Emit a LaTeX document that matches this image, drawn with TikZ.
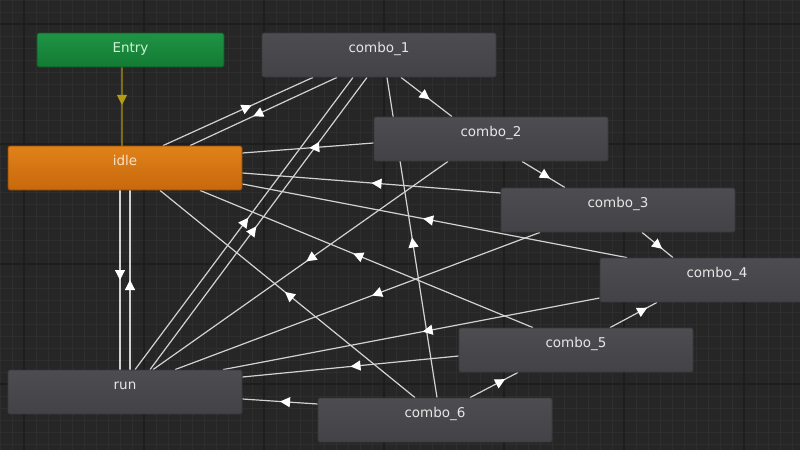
\documentclass[tikz,border=0pt]{standalone}
\usepackage{fontspec}
\setmainfont{DejaVu Sans}
\usetikzlibrary{arrows.meta}
\usetikzlibrary{decorations.markings}

\definecolor{gridbg}{HTML}{262626}
\definecolor{gridminor}{HTML}{2E2E2E}
\definecolor{gridmajor}{HTML}{1D1D1D}
\definecolor{stateborder}{HTML}{38383B}
\definecolor{statetop}{HTML}{4D4D51}
\definecolor{statebot}{HTML}{434347}
\definecolor{statetext}{HTML}{E6E6E6}
\definecolor{idletop}{HTML}{E0821A}
\definecolor{idlebot}{HTML}{C8680C}
\definecolor{idletext}{HTML}{F6E2CC}
\definecolor{entrytop}{HTML}{1F9444}
\definecolor{entrybot}{HTML}{137A33}
\definecolor{entrytext}{HTML}{CFF2D4}
\definecolor{transline}{HTML}{D2D2D2}
\definecolor{entryline}{HTML}{7D6C12}
\definecolor{entryarrow}{HTML}{B39C12}

\pgfdeclarelayer{back}
\pgfsetlayers{back,main}

\tikzset{
state/.style={rectangle, rounded corners=2pt, draw=stateborder, line width=0.8pt,
  top color=statetop, bottom color=statebot, minimum width=234pt, minimum height=44pt,
  inner sep=0pt, text=statetext, text height=9pt, text depth=14pt,
  font=\fontsize{13.5}{16}\selectfont},
idlestate/.style={state, draw=idlebot!70!black, top color=idletop, bottom color=idlebot, text=idletext},
entrystate/.style={state, draw=entrybot!70!black, top color=entrytop, bottom color=entrybot,
  text=entrytext, minimum width=187pt, minimum height=34pt, text depth=5pt},
trans/.style={draw=transline, line width=1.2pt, postaction={decorate},
  decoration={markings, mark=at position #1 with {\arrow[white]{Triangle[length=10pt,width=10pt]}}}},
trans/.default=0.5,
entrytrans/.style={draw=entryline, line width=1.2pt, postaction={decorate},
  decoration={markings, mark=at position #1 with {\arrow[entryarrow]{Triangle[length=10pt,width=10pt]}}}},
entrytrans/.default=0.5
}

\begin{document}
\begin{tikzpicture}[x=1pt,y=-1pt]
\useasboundingbox (0,0) rectangle (800,450);
\begin{pgfonlayer}{back}
\fill[gridbg] (0,0) rectangle (800,450);
\foreach \g in {0,12,...,800} \draw[gridminor, line width=1pt] (\g,0) -- (\g,450);
\foreach \g in {0,12,...,450} \draw[gridminor, line width=1pt] (0,\g) -- (800,\g);
\foreach \g in {24,144,...,800} \draw[gridmajor, line width=1.5pt] (\g,0) -- (\g,450);
\foreach \g in {24,144,...,450} \draw[gridmajor, line width=1.5pt] (0,\g) -- (800,\g);
\end{pgfonlayer}

\node[entrystate] (entry) at (130.5,50) {Entry};
\node[idlestate] (idle) at (125,168) {idle};
\node[state] (run) at (125,392) {run};
\node[state] (c1) at (379,55) {combo\_1};
\node[state] (c2) at (491,139) {combo\_2};
\node[state] (c3) at (618,210) {combo\_3};
\node[state] (c4) at (717,280) {combo\_4};
\node[state] (c5) at (576,350) {combo\_5};
\node[state] (c6) at (435,420) {combo\_6};

\begin{pgfonlayer}{back}
\draw[entrytrans=0.48] ([xshift=-8.5pt]entry.south) -- ([xshift=-3pt]idle.north);
\draw[trans] ([xshift=-5pt]idle.south) -- ([xshift=-5pt]run.north);
\draw[trans] ([xshift=5pt]run.north) -- ([xshift=5pt]idle.south);
\draw[trans=0.59] ([xshift=38pt]idle.north) -- ([xshift=-66pt]c1.south);
\draw[trans=0.57] ([xshift=-42pt]c1.south) -- ([xshift=65pt]idle.north);
\draw[trans=0.52] ([xshift=10pt]run.north) -- ([xshift=-26pt]c1.south);
\draw[trans=0.49] ([xshift=25pt]run.north) -- ([xshift=-12pt]c1.south);
\draw[trans=0.5] ([xshift=2pt]c6.north) -- ([xshift=8pt]c1.south);
\draw[trans=0.56] ([xshift=22pt]c1.south) -- ([xshift=-39pt]c2.north);
\draw[trans=0.65] ([xshift=31pt]c2.south) -- ([xshift=-53pt]c3.north);
\draw[trans=0.65] ([xshift=24pt]c3.south) -- ([xshift=-44pt]c4.north);
\draw[trans=0.79] ([xshift=34pt]c5.north) -- ([xshift=-60pt]c4.south);
\draw[trans=0.73] ([xshift=35pt]c6.north) -- ([xshift=-58pt]c5.south);
\draw[trans=0.49] ([yshift=-4pt]c2.west) -- ([yshift=15pt]idle.east);
\draw[trans=0.5] ([yshift=17pt]c3.west) -- ([yshift=-5pt]idle.east);
\draw[trans=0.53] ([xshift=-90pt]c4.north) -- ([yshift=-16pt]idle.east);
\draw[trans=0.54] ([xshift=-43pt]c5.north) -- ([xshift=75pt]idle.south);
\draw[trans=0.51] ([xshift=-20pt]c6.north) -- ([xshift=35pt]idle.south);
\draw[trans=0.48] ([xshift=-43pt]c2.south) -- ([xshift=28pt]run.north);
\draw[trans=0.46] ([xshift=-78pt]c3.south) -- ([xshift=50pt]run.north);
\draw[trans=0.47] ([yshift=-18pt]c4.west) -- ([xshift=98pt]run.north);
\draw[trans=0.5] ([yshift=-6pt]c5.west) -- ([yshift=15pt]run.east);
\draw[trans=0.5] ([yshift=16pt]c6.west) -- ([yshift=-7pt]run.east);
\end{pgfonlayer}
\end{tikzpicture}
\end{document}
